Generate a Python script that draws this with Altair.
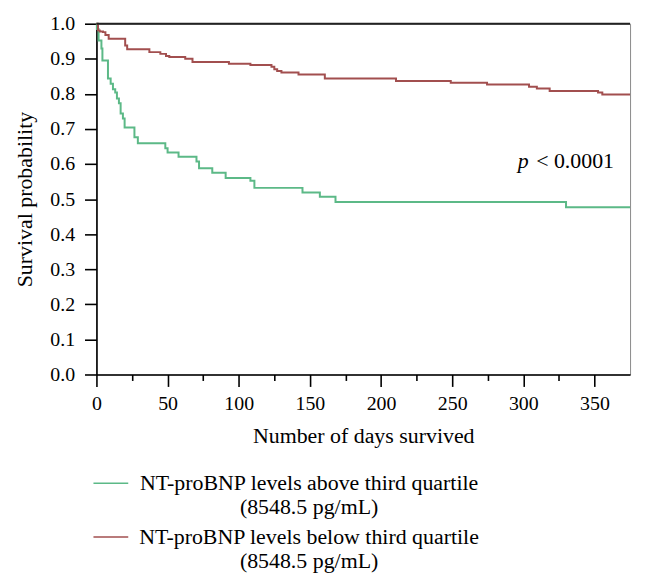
import altair as alt
import pandas as pd

# ---- data (days, survival probability) ----
green_days = [0, 0.3, 1.5, 3.5, 4.2, 8.1, 10, 11.6, 13.2, 14.4, 15.8, 17, 18.6, 19.8,
              26.7, 29.1, 48.4, 50, 57.7, 70.3, 72.1, 81.4, 90.8, 108.2, 111,
              144.8, 157, 168, 330, 375]
green_surv = [1.0, 0.985, 0.952, 0.929, 0.895, 0.844, 0.829, 0.813, 0.804, 0.787, 0.773, 0.744, 0.730, 0.704,
              0.676, 0.659, 0.645, 0.633, 0.621, 0.607, 0.588, 0.575, 0.560, 0.552, 0.532,
              0.519, 0.507, 0.492, 0.477, 0.477]

red_days = [0, 1.1, 2.3, 4.6, 6.3, 8.6, 20.2, 21.6, 37.2, 44.9, 48.9, 51.2, 62.4, 67.5,
            93.1, 108.2, 123, 125, 127, 130, 142, 160.5, 210.5, 249, 274.5, 304,
            309.5, 318.5, 352.5, 355.5, 375]
red_surv = [1.0, 0.981, 0.978, 0.976, 0.968, 0.957, 0.938, 0.927, 0.919, 0.914, 0.908, 0.905, 0.900, 0.891,
            0.886, 0.882, 0.877, 0.870, 0.865, 0.861, 0.855, 0.844, 0.837, 0.832, 0.827, 0.820,
            0.815, 0.808, 0.804, 0.798, 0.798]

ABOVE = "NT-proBNP levels above third quartile"
BELOW = "NT-proBNP levels below third quartile"
groups = [ABOVE, BELOW]
colors = ["#5cb987", "#a24f4f"]
sub_label = "(8548.5 pg/mL)"

x_ticks = [0, 25, 50, 75, 100, 125, 150, 175, 200, 225, 250, 275, 300, 325, 350]
y_ticks = [0.0, 0.1, 0.2, 0.3, 0.4, 0.5, 0.6, 0.7, 0.8, 0.9, 1.0]

p_italic = ["p"]
p_rest = ["< 0.0001"]
p_x = [296.0, 309.0]
p_y = [0.589, 0.589]

FONT = "Liberation Serif"

df = pd.concat([
    pd.DataFrame({"day": green_days, "surv": green_surv, "group": ABOVE,
                  "ord": list(range(len(green_days)))}),
    pd.DataFrame({"day": red_days, "surv": red_surv, "group": BELOW,
                  "ord": list(range(len(red_days)))}),
], ignore_index=True)

x_scale = alt.Scale(domain=[0, 375], nice=False, zero=False)
y_scale = alt.Scale(domain=[0, 1], nice=False)

x_axis = alt.Axis(
    title="Number of days survived",
    values=x_ticks,
    labelExpr="datum.value % 50 === 0 ? datum.label : ''",
    tickSize={"condition": {"test": "datum.value % 50 === 0", "value": 12}, "value": 6},
    labelFlush=False,
    labelOverlap=False,
    labelPadding=7,
    titlePadding=12,
)
y_axis = alt.Axis(
    title="Survival probability",
    values=y_ticks,
    format=".1f",
    tickSize=12,
    labelPadding=10,
    labelOverlap=False,
    labelBound=False,
    titlePadding=13,
)

legend = alt.Legend(
    orient="none",
    legendX=-4,
    legendY=444,
    title=None,
    direction="vertical",
    symbolType="stroke",
    symbolSize=1225,
    symbolStrokeWidth=1.5,
    labelExpr="[datum.label, '" + sub_label + "']",
    labelAlign="center",
    labelBaseline="middle",
    labelOffset=181,
    labelLimit=0,
    labelFont=FONT,
    labelFontSize=22,
    labelColor="black",
    rowPadding=-2,
    padding=0,
)

lines = alt.Chart(df).mark_line(interpolate="step-after", strokeWidth=2).encode(
    x=alt.X("day:Q", scale=x_scale, axis=x_axis),
    y=alt.Y("surv:Q", scale=y_scale, axis=y_axis),
    color=alt.Color("group:N", scale=alt.Scale(domain=groups, range=colors), legend=legend),
    order="ord:Q",
)

top_line = alt.Chart(pd.DataFrame({"v": [1.0]})).mark_rule(color="#222", strokeWidth=2).encode(
    y=alt.Y("v:Q", scale=y_scale, axis=y_axis)
)

p_df1 = pd.DataFrame({"x": [p_x[0]], "y": [p_y[0]], "t": p_italic})
p_df2 = pd.DataFrame({"x": [p_x[1]], "y": [p_y[1]], "t": p_rest})
p1 = alt.Chart(p_df1).mark_text(font=FONT, fontSize=22, fontStyle="italic", align="left",
                                baseline="alphabetic", color="black").encode(
    x=alt.X("x:Q", scale=x_scale, axis=x_axis), y=alt.Y("y:Q", scale=y_scale, axis=y_axis), text="t:N")
p2 = alt.Chart(p_df2).mark_text(font=FONT, fontSize=22, align="left",
                                baseline="alphabetic", color="black").encode(
    x=alt.X("x:Q", scale=x_scale, axis=x_axis), y=alt.Y("y:Q", scale=y_scale, axis=y_axis), text="t:N")

chart = alt.layer(lines, top_line, p1, p2).properties(
    width=537,
    height=353,
    autosize=alt.AutoSizeParams(type="none"),
    padding={"left": 89, "top": 14, "right": 10, "bottom": 205},
).configure_view(
    stroke="#8a8a8a", strokeWidth=1
).configure_axis(
    grid=False,
    domainColor="black",
    domainWidth=1.6,
    tickColor="black",
    tickWidth=1.6,
    labelFont=FONT,
    labelFontSize=20,
    labelColor="black",
    titleFont=FONT,
    titleFontSize=22,
    titleFontWeight="normal",
    titleColor="black",
)

chart.save("out.html", embed_options={"renderer": "svg", "actions": False})
